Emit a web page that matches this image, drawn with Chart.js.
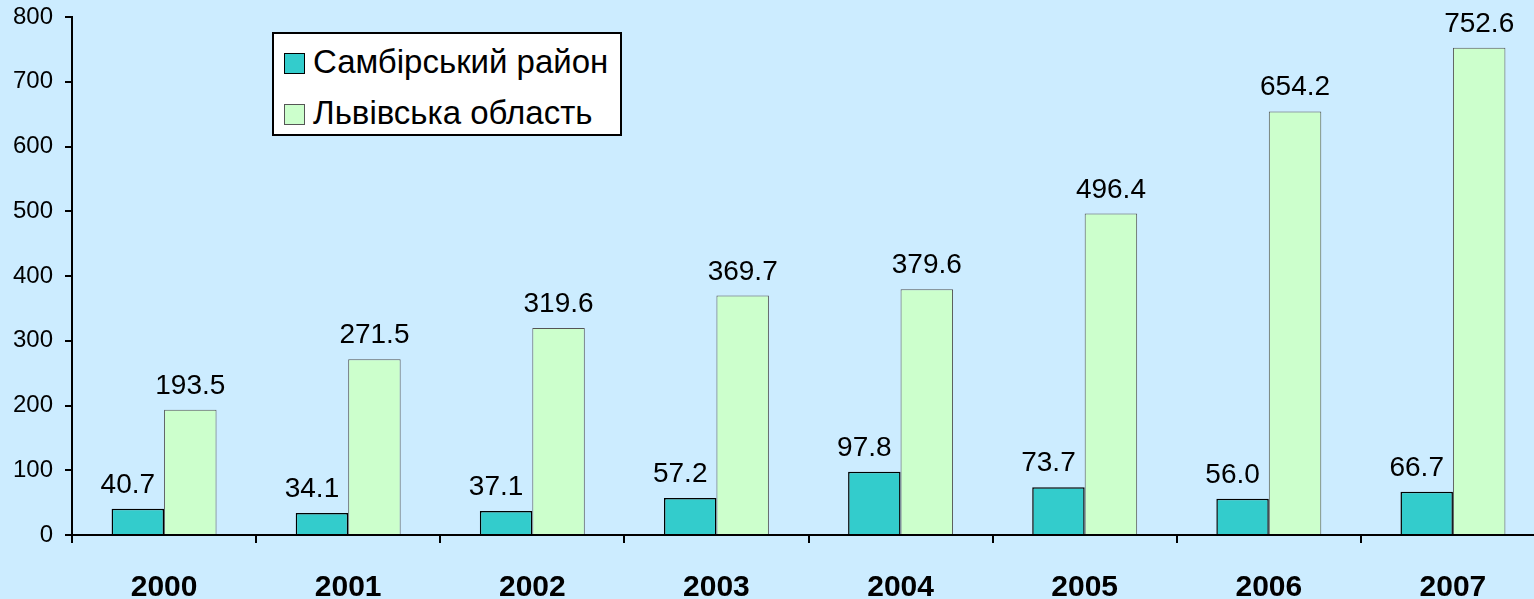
<!DOCTYPE html>
<html>
<head>
<meta charset="utf-8">
<script src="https://cdn.jsdelivr.net/npm/chart.js@4"></script>
<style>
  html, body { margin: 0; padding: 0; background: #CCECFF; overflow: hidden; }
  #wrap { position: relative; width: 1545px; height: 599px; }
  #legend {
    position: absolute; left: 272px; top: 32px; width: 346px; height: 100px;
    background: #fff; border: 2px solid #000;
    font-family: Arial, "Liberation Sans", sans-serif; font-size: 33px; color: #000;
  }
  .row { position: absolute; left: 10px; height: 32px; line-height: 32px; white-space: nowrap; }
  .sw { display: inline-block; width: 19px; height: 19px; vertical-align: -1px; margin-right: 8px; }
</style>
</head>
<body>
<div id="wrap">
  <canvas id="myChart" width="1545" height="599"></canvas>
  <div id="legend">
    <div class="row" style="top:12px"><span class="sw" style="background:#33CCCC;border:1.5px solid #000"></span>Самбірський район</div>
    <div class="row" style="top:63px"><span class="sw" style="background:#CCFFCC;border:1px solid #555"></span>Львівська область</div>
  </div>
</div>
<script>
const years = ['2000', '2001', '2002', '2003', '2004', '2005', '2006', '2007'];
const sambir = [40.7, 34.1, 37.1, 57.2, 97.8, 73.7, 56.0, 66.7];
const lviv = [193.5, 271.5, 319.6, 369.7, 379.6, 496.4, 654.2, 752.6];

// Werte über den Balken schreiben (linke Reihe etwas nach links versetzt)
const valueLabels = {
  id: 'valueLabels',
  afterDatasetsDraw(chart) {
    const ctx = chart.ctx;
    ctx.save();
    ctx.font = '28px Arial, "Liberation Sans", sans-serif';
    ctx.fillStyle = '#000';
    ctx.textAlign = 'center';
    ctx.textBaseline = 'alphabetic';
    chart.data.datasets.forEach((ds, i) => {
      const shift = i === 0 ? -10 : 0;
      chart.getDatasetMeta(i).data.forEach((bar, j) => {
        ctx.fillText(ds.data[j].toFixed(1), bar.x + shift, bar.y - 16);
      });
    });
    ctx.restore();
  }
};

const ctx = document.getElementById('myChart').getContext('2d');

new Chart(ctx, {
  type: 'bar',
  data: {
    labels: years,
    datasets: [{
      label: 'Самбірський район',
      data: sambir,
      backgroundColor: '#33CCCC',
      borderColor: '#000',
      borderWidth: 1.5
    }, {
      label: 'Львівська область',
      data: lviv,
      backgroundColor: '#CCFFCC',
      borderColor: '#555',
      borderWidth: 1
    }]
  },
  options: {
    responsive: false,
    animation: false,
    layout: { padding: { top: 17, right: 0, left: 0, bottom: 0 } },
    plugins: {
      legend: { display: false },
      tooltip: { enabled: false }
    },
    datasets: {
      bar: { categoryPercentage: 0.57, barPercentage: 1 }
    },
    scales: {
      x: {
        afterFit(scale) { scale.height = 64; },
        grid: {
          offset: true,
          drawOnChartArea: false,
          drawTicks: true,
          tickLength: 8,
          color: '#000',
          lineWidth: 2
        },
        border: { color: '#000', width: 2 },
        ticks: {
          color: '#000',
          font: { family: 'Arial, "Liberation Sans", sans-serif', size: 30, weight: 'bold' },
          padding: 27,
          maxRotation: 0,
          minRotation: 0,
          autoSkip: false
        }
      },
      y: {
        min: 0,
        max: 800,
        afterFit(scale) {
          scale.width = 72;
          scale.paddingTop = 0;
          scale.paddingBottom = 0;
        },
        grid: {
          drawOnChartArea: false,
          drawTicks: true,
          tickLength: 7,
          color: '#000',
          lineWidth: 2
        },
        border: { color: '#000', width: 2 },
        ticks: {
          stepSize: 100,
          color: '#000',
          font: { family: 'Arial, "Liberation Sans", sans-serif', size: 24 },
          padding: 12
        }
      }
    }
  },
  plugins: [valueLabels]
});
</script>
</body>
</html>
